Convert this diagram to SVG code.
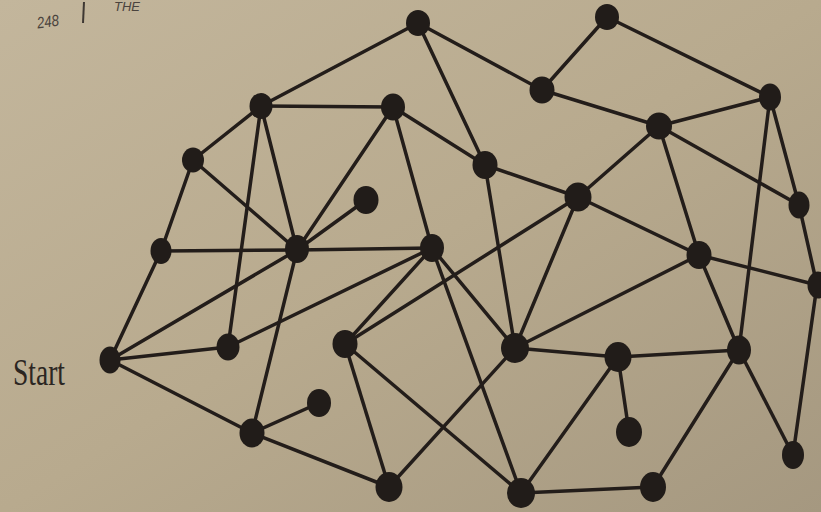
<svg xmlns="http://www.w3.org/2000/svg" width="821" height="512" viewBox="0 0 821 512">
<defs>
<linearGradient id="bg" x1="0" y1="0" x2="1" y2="1">
<stop offset="0" stop-color="#c3b69c"/>
<stop offset="0.5" stop-color="#b8aa8e"/>
<stop offset="1" stop-color="#a59880"/>
</linearGradient>
<style>
.e line{stroke:#231d1a;stroke-width:3.5;stroke-linecap:round}
.n ellipse{fill:#211c19}
.lbl{font-family:"Liberation Serif",serif;fill:#2b2622}
.hdr{font-family:"Liberation Sans",sans-serif;fill:#4a433d;font-style:italic}
</style>
</defs>
<rect width="821" height="512" fill="url(#bg)"/>
<text class="hdr" x="37" y="27" font-size="16" textLength="22" lengthAdjust="spacingAndGlyphs" transform="rotate(-8 48 22)">248</text>
<line x1="84" y1="2" x2="83" y2="23" stroke="#3e3833" stroke-width="2"/>
<text class="hdr" x="114" y="11" font-size="12" textLength="26" lengthAdjust="spacingAndGlyphs">THE</text>
<text class="lbl" x="13" y="385" font-size="38" textLength="52" lengthAdjust="spacingAndGlyphs">Start</text>
<g class="e" id="connectors">
<line x1="418" y1="23" x2="261" y2="106"/>
<line x1="418" y1="23" x2="542" y2="90"/>
<line x1="418" y1="23" x2="485" y2="165"/>
<line x1="607" y1="17" x2="542" y2="90"/>
<line x1="607" y1="17" x2="770" y2="97"/>
<line x1="542" y1="90" x2="659" y2="126"/>
<line x1="770" y1="97" x2="659" y2="126"/>
<line x1="770" y1="97" x2="799" y2="205"/>
<line x1="770" y1="97" x2="739" y2="350"/>
<line x1="261" y1="106" x2="393" y2="107"/>
<line x1="261" y1="106" x2="193" y2="160"/>
<line x1="261" y1="106" x2="297" y2="250"/>
<line x1="261" y1="106" x2="228" y2="347"/>
<line x1="393" y1="107" x2="297" y2="250"/>
<line x1="393" y1="107" x2="432" y2="248"/>
<line x1="393" y1="107" x2="485" y2="165"/>
<line x1="659" y1="126" x2="578" y2="197"/>
<line x1="659" y1="126" x2="699" y2="255"/>
<line x1="659" y1="126" x2="799" y2="205"/>
<line x1="193" y1="160" x2="161" y2="251"/>
<line x1="193" y1="160" x2="297" y2="250"/>
<line x1="485" y1="165" x2="578" y2="197"/>
<line x1="485" y1="165" x2="515" y2="348"/>
<line x1="366" y1="200" x2="297" y2="250"/>
<line x1="578" y1="197" x2="345" y2="344"/>
<line x1="578" y1="197" x2="515" y2="348"/>
<line x1="578" y1="197" x2="699" y2="255"/>
<line x1="799" y1="205" x2="817" y2="285"/>
<line x1="161" y1="251" x2="297" y2="250"/>
<line x1="161" y1="251" x2="110" y2="360"/>
<line x1="297" y1="250" x2="432" y2="248"/>
<line x1="297" y1="250" x2="110" y2="360"/>
<line x1="297" y1="250" x2="252" y2="433"/>
<line x1="432" y1="248" x2="228" y2="347"/>
<line x1="432" y1="248" x2="345" y2="344"/>
<line x1="432" y1="248" x2="515" y2="348"/>
<line x1="432" y1="248" x2="521" y2="493"/>
<line x1="699" y1="255" x2="515" y2="348"/>
<line x1="699" y1="255" x2="739" y2="350"/>
<line x1="699" y1="255" x2="817" y2="285"/>
<line x1="817" y1="285" x2="793" y2="455"/>
<line x1="110" y1="360" x2="228" y2="347"/>
<line x1="110" y1="360" x2="252" y2="433"/>
<line x1="345" y1="344" x2="389" y2="487"/>
<line x1="345" y1="344" x2="521" y2="493"/>
<line x1="515" y1="348" x2="618" y2="357"/>
<line x1="515" y1="348" x2="389" y2="487"/>
<line x1="618" y1="357" x2="739" y2="350"/>
<line x1="618" y1="357" x2="629" y2="432"/>
<line x1="618" y1="357" x2="521" y2="493"/>
<line x1="739" y1="350" x2="793" y2="455"/>
<line x1="739" y1="350" x2="653" y2="487"/>
<line x1="319" y1="403" x2="252" y2="433"/>
<line x1="252" y1="433" x2="389" y2="487"/>
<line x1="521" y1="493" x2="653" y2="487"/>
</g>
<g class="n">
<g id="n1"><ellipse cx="418" cy="23" rx="12" ry="13"/></g>
<g id="n2"><ellipse cx="607" cy="17" rx="12" ry="13"/></g>
<g id="n3"><ellipse cx="542" cy="90" rx="12.5" ry="13.5"/></g>
<g id="n4"><ellipse cx="770" cy="97" rx="11" ry="13.5"/></g>
<g id="n5"><ellipse cx="261" cy="106" rx="11.5" ry="13"/></g>
<g id="n6"><ellipse cx="393" cy="107" rx="12" ry="13.5"/></g>
<g id="n7"><ellipse cx="659" cy="126" rx="13" ry="13.5"/></g>
<g id="n8"><ellipse cx="193" cy="160" rx="11" ry="12.5"/></g>
<g id="n9"><ellipse cx="485" cy="165" rx="12.5" ry="14"/></g>
<g id="n10"><ellipse cx="366" cy="200" rx="12.5" ry="14"/></g>
<g id="n11"><ellipse cx="578" cy="197" rx="13.5" ry="14.5"/></g>
<g id="n12"><ellipse cx="799" cy="205" rx="10.5" ry="13.5"/></g>
<g id="n13"><ellipse cx="161" cy="251" rx="10.5" ry="13"/></g>
<g id="n14"><ellipse cx="297" cy="249" rx="12" ry="14"/></g>
<g id="n15"><ellipse cx="432" cy="248" rx="12" ry="14"/></g>
<g id="n16"><ellipse cx="699" cy="255" rx="12.5" ry="14"/></g>
<g id="n17"><ellipse cx="818" cy="285" rx="10.5" ry="13.5"/></g>
<g id="n18"><ellipse cx="110" cy="360" rx="10.5" ry="13.5"/></g>
<g id="n19"><ellipse cx="228" cy="347" rx="11.5" ry="13.5"/></g>
<g id="n20"><ellipse cx="345" cy="344" rx="12.5" ry="14"/></g>
<g id="n21"><ellipse cx="515" cy="348" rx="14" ry="15"/></g>
<g id="n22"><ellipse cx="618" cy="357" rx="13.5" ry="15"/></g>
<g id="n23"><ellipse cx="739" cy="350" rx="12" ry="14.5"/></g>
<g id="n24"><ellipse cx="319" cy="403" rx="12" ry="14"/></g>
<g id="n25"><ellipse cx="252" cy="433" rx="12.5" ry="14.5"/></g>
<g id="n26"><ellipse cx="629" cy="432" rx="13" ry="15"/></g>
<g id="n27"><ellipse cx="793" cy="455" rx="11" ry="14"/></g>
<g id="n28"><ellipse cx="389" cy="487" rx="13.5" ry="15"/></g>
<g id="n29"><ellipse cx="521" cy="493" rx="14" ry="15"/></g>
<g id="n30"><ellipse cx="653" cy="487" rx="13" ry="15"/></g>
</g>
</svg>
